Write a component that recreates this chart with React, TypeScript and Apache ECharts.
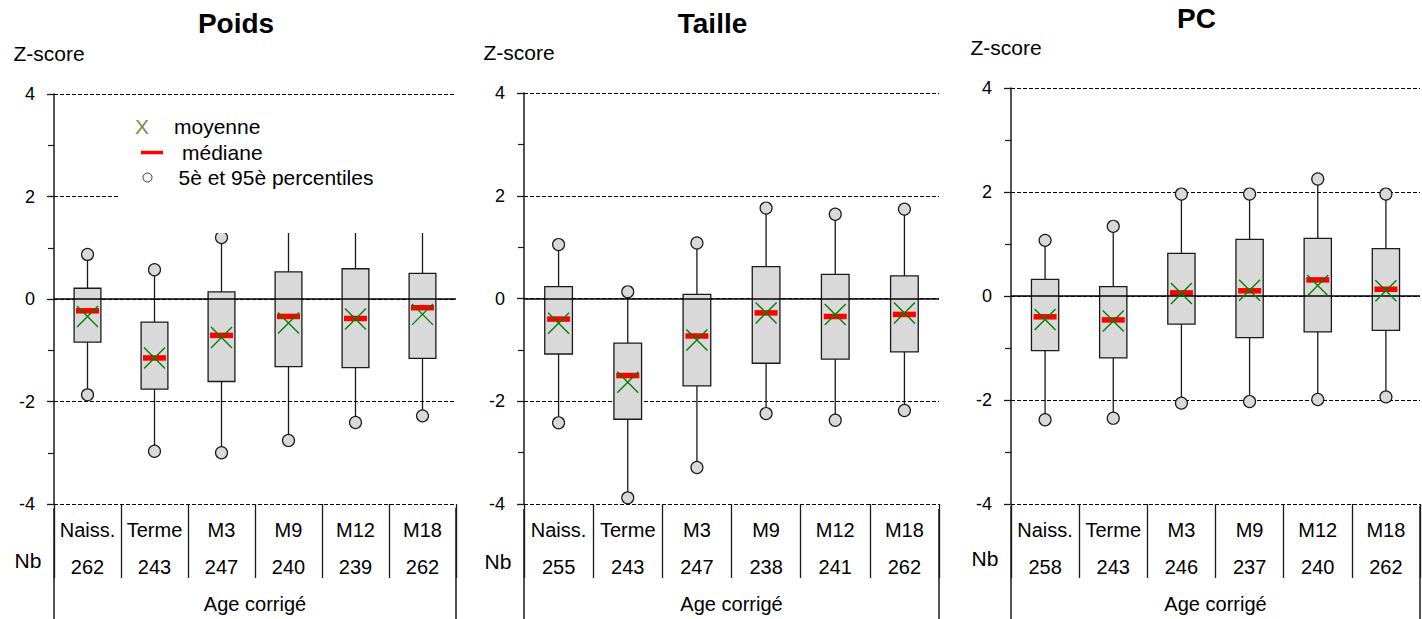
import React, { useEffect, useRef } from 'react';
import * as echarts from 'echarts';

const categories = ['Naiss.', 'Terme', 'M3', 'M9', 'M12', 'M18'];
const yTicks = [-4, -2, 0, 2, 4];

// Poids
const poidsP5 = [-1.87, -2.97, -3.0, -2.76, -2.41, -2.28];
const poidsQ1 = [-0.84, -1.76, -1.61, -1.32, -1.34, -1.16];
const poidsMedian = [-0.23, -1.15, -0.71, -0.34, -0.38, -0.17];
const poidsMean = [-0.34, -1.15, -0.75, -0.47, -0.39, -0.3];
const poidsQ3 = [0.21, -0.45, 0.14, 0.53, 0.59, 0.5];
const poidsP95 = [0.87, 0.57, 1.2, 1.7, 1.8, 1.75];
const poidsNb = [262, 243, 247, 240, 239, 262];

// Taille
const tailleP5 = [-2.42, -3.88, -3.29, -2.24, -2.37, -2.18];
const tailleQ1 = [-1.08, -2.35, -1.7, -1.26, -1.18, -1.04];
const tailleMedian = [-0.4, -1.5, -0.73, -0.28, -0.35, -0.31];
const tailleMean = [-0.48, -1.63, -0.81, -0.28, -0.31, -0.28];
const tailleQ3 = [0.23, -0.87, 0.08, 0.62, 0.47, 0.44];
const tailleP95 = [1.05, 0.13, 1.08, 1.76, 1.64, 1.74];
const tailleNb = [255, 243, 247, 238, 241, 262];

// PC
const pcP5 = [-2.38, -2.35, -2.06, -2.03, -1.99, -1.94];
const pcQ1 = [-1.05, -1.19, -0.54, -0.8, -0.69, -0.66];
const pcMedian = [-0.4, -0.46, 0.06, 0.1, 0.31, 0.13];
const pcMean = [-0.45, -0.48, 0.05, 0.11, 0.2, 0.1];
const pcQ3 = [0.32, 0.18, 0.82, 1.09, 1.11, 0.91];
const pcP95 = [1.07, 1.34, 1.96, 1.96, 2.25, 1.96];
const pcNb = [258, 243, 246, 237, 240, 262];

const panelTitles = ['Poids', 'Taille', 'PC'];
const panelData = [
  { p5: poidsP5, q1: poidsQ1, med: poidsMedian, mean: poidsMean, q3: poidsQ3, p95: poidsP95, nb: poidsNb },
  { p5: tailleP5, q1: tailleQ1, med: tailleMedian, mean: tailleMean, q3: tailleQ3, p95: tailleP95, nb: tailleNb },
  { p5: pcP5, q1: pcQ1, med: pcMedian, mean: pcMean, q3: pcQ3, p95: pcP95, nb: pcNb },
];

const layout = [
  { left: 54, top: 94, width: 402, height: 414, titleY: 23 },
  { left: 524, top: 93, width: 415, height: 416, titleY: 23 },
  { left: 1011, top: 88, width: 409, height: 418, titleY: 18 },
];

const FONT = '"Liberation Sans", Arial, sans-serif';
const INK = '#1a1a1a';

function txt(x: number, y: number, text: string, size: number, extra: any = {}) {
  return {
    type: 'text',
    x,
    y,
    z: 110,
    style: {
      text,
      fontSize: size,
      fontFamily: FONT,
      fill: extra.fill || '#000',
      fontWeight: extra.fontWeight || 'normal',
      align: extra.align || 'center',
      verticalAlign: 'middle',
      textAlign: extra.align || 'center',
      textVerticalAlign: 'middle',
    },
  };
}

function buildOption() {
  const grid: any[] = [];
  const xAxis: any[] = [];
  const yAxis: any[] = [];
  const series: any[] = [];
  const graphic: any[] = [];

  layout.forEach((L, i) => {
    const d = panelData[i];
    grid.push({ left: L.left, top: L.top, width: L.width, height: L.height });
    xAxis.push({
      type: 'category',
      gridIndex: i,
      data: categories,
      boundaryGap: true,
      position: 'bottom',
      axisLine: { show: false, onZero: false },
      axisTick: { show: true, interval: 0, inside: false, length: 74, lineStyle: { color: INK, width: 1.3 } },
      axisLabel: {
        interval: 0,
        margin: 7,
        formatter: (v: string, idx: number) => `{c|${v}}\n{n|${d.nb[idx]}}`,
        rich: {
          c: { fontSize: 20, fontFamily: FONT, color: '#000', lineHeight: 37 },
          n: { fontSize: 20, fontFamily: FONT, color: '#000', lineHeight: 37 },
        },
      },
      name: 'Age corrigé',
      nameLocation: 'middle',
      nameGap: 90,
      nameTextStyle: { fontSize: 20, fontFamily: FONT, color: '#000' },
      splitLine: { show: false },
    });
    yAxis.push({
      type: 'value',
      gridIndex: i,
      min: yTicks[0],
      max: yTicks[yTicks.length - 1],
      interval: 2,
      axisLine: { show: true, lineStyle: { color: INK, width: 1.5 } },
      axisTick: { show: true, length: 7, lineStyle: { color: INK, width: 1.3 } },
      minorTick: { show: true, splitNumber: 2, length: 6, lineStyle: { color: INK, width: 1.2 } },
      axisLabel: { margin: 19, fontSize: 18, fontFamily: FONT, color: '#000' },
      splitLine: { show: true, lineStyle: { color: '#000', type: [4, 2], width: 1 } },
      minorSplitLine: { show: false },
    });

    // zero line (behind boxes)
    series.push({
      type: 'scatter',
      xAxisIndex: i,
      yAxisIndex: i,
      data: [],
      z: 1,
      markLine: {
        silent: true,
        symbol: 'none',
        label: { show: false },
        lineStyle: { color: '#000', type: 'solid', width: 1.5 },
        data: [{ yAxis: 0 }],
      },
    });

    series.push({
      type: 'custom',
      xAxisIndex: i,
      yAxisIndex: i,
      z: 2,
      data: categories.map((_, j) => [j, d.p5[j], d.q1[j], d.q3[j], d.p95[j]]),
      encode: { x: 0, y: [1, 2, 3, 4] },
      renderItem: (params: any, api: any) => {
        const x = api.value(0);
        const pLow = api.coord([x, api.value(1)]);
        const pQ1 = api.coord([x, api.value(2)]);
        const pQ3 = api.coord([x, api.value(3)]);
        const pHigh = api.coord([x, api.value(4)]);
        const w = api.size([1, 0])[0] * 0.4;
        const ls = { stroke: INK, lineWidth: 1.3 };
        return {
          type: 'group',
          children: [
            { type: 'line', shape: { x1: pLow[0], y1: pLow[1], x2: pLow[0], y2: pQ1[1] }, style: ls },
            { type: 'line', shape: { x1: pHigh[0], y1: pQ3[1], x2: pHigh[0], y2: pHigh[1] }, style: ls },
            {
              type: 'rect',
              shape: { x: pQ1[0] - w / 2, y: pQ3[1], width: w, height: pQ1[1] - pQ3[1] },
              style: { fill: '#d9d9d9', stroke: INK, lineWidth: 1.3 },
            },
          ],
        };
      },
    });

    series.push({
      type: 'scatter',
      xAxisIndex: i,
      yAxisIndex: i,
      z: 3,
      symbol: 'circle',
      symbolSize: 12,
      itemStyle: { color: '#d9d9d9', borderColor: INK, borderWidth: 1.2, opacity: 1 },
      data: [...d.p5.map((v, j) => [j, v]), ...d.p95.map((v, j) => [j, v])],
    });
    series.push({
      type: 'scatter',
      xAxisIndex: i,
      yAxisIndex: i,
      z: 4,
      symbol: 'rect',
      symbolSize: [23, 5.5],
      itemStyle: { color: '#ff0000', opacity: 1 },
      data: d.med.map((v, j) => [j, v]),
    });
    series.push({
      type: 'scatter',
      xAxisIndex: i,
      yAxisIndex: i,
      z: 5,
      symbol: 'path://M0,0L20,20M20,0L0,20',
      symbolSize: 21,
      itemStyle: { color: 'rgba(0,0,0,0)', borderColor: '#008000', borderWidth: 1.4, opacity: 1 },
      data: d.mean.map((v, j) => [j, v]),
    });

    const cx = L.left + L.width / 2 - 19;
    graphic.push(txt(cx, L.titleY, panelTitles[i], 28, { fontWeight: 'bold' }));
    graphic.push(txt(L.left - 5, L.top - 41, 'Z-score', 21));
    graphic.push(txt(L.left - 26, L.top + L.height + 52, 'Nb', 21));
    const bottom = L.top + L.height;
    [L.left, L.left + L.width].forEach((lx) => {
      graphic.push({
        type: 'line',
        z: 110,
        shape: { x1: lx, y1: bottom, x2: lx, y2: 619 },
        style: { stroke: INK, lineWidth: 1.5 },
      });
    });
  });

  // legend inside the first panel (white box hides what's behind)
  graphic.push({
    type: 'rect',
    z: 100,
    shape: { x: 120, y: 100, width: 337, height: 133 },
    style: { fill: '#ffffff', stroke: 'none' },
  });
  graphic.push(txt(142, 126, 'X', 21, { fill: '#77933C' }));
  graphic.push(txt(174, 126, 'moyenne', 21, { align: 'left' }));
  graphic.push({
    type: 'line',
    z: 110,
    shape: { x1: 141, y1: 152.5, x2: 163, y2: 152.5 },
    style: { stroke: '#ff0000', lineWidth: 3.5 },
  });
  graphic.push(txt(182, 152, 'médiane', 21, { align: 'left' }));
  graphic.push({
    type: 'circle',
    z: 110,
    shape: { cx: 147.5, cy: 177.5, r: 4.5 },
    style: { fill: '#f4f4f4', stroke: '#333', lineWidth: 1 },
  });
  graphic.push(txt(178.5, 177, '5è et 95è percentiles', 21, { align: 'left' }));

  return {
    animation: false,
    backgroundColor: '#ffffff',
    textStyle: { fontFamily: FONT },
    grid,
    xAxis,
    yAxis,
    series,
    graphic,
  };
}

export default function App() {
  const ref = useRef<HTMLDivElement>(null);
  useEffect(() => {
    document.body.style.margin = '0';
    document.body.style.overflow = 'hidden';
    document.documentElement.style.overflow = 'hidden';
    if (!ref.current) return;
    const chart = echarts.init(ref.current, null, { renderer: 'svg' });
    chart.setOption(buildOption() as any);
    return () => chart.dispose();
  }, []);
  return <div ref={ref} style={{ width: 1422, height: 619, overflow: 'hidden' }} />;
}
